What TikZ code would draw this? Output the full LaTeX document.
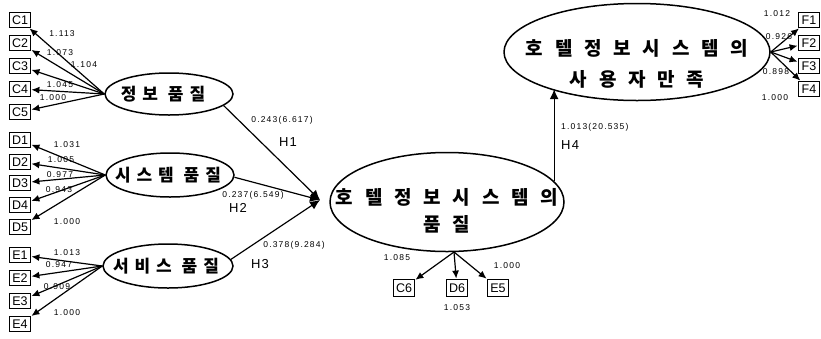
\documentclass[tikz,border=0pt]{standalone}
\usepackage{fontspec}
\setmainfont{Liberation Sans}
\newfontfamily\kr{Noto Sans CJK KR}
\usetikzlibrary{shapes.geometric,arrows.meta}
\newcommand{\zl}[2]{\makebox[0pt][c]{\raisebox{-#1}[\height][\depth]{#2}}}
\begin{document}
\begin{tikzpicture}[x=1pt,y=-1pt,
  obox/.style={draw, line width=1.8pt, minimum width=21pt, minimum height=15pt, inner sep=0pt, font=\fontsize{12.5}{12.5}\selectfont},
  lat/.style={draw, ellipse, line width=1.5pt, inner sep=0pt, align=center},
  spoke/.style={-{Latex[length=8pt,width=7pt]}, line width=1.2pt},
  path/.style={-{Latex[length=10pt,width=9pt]}, line width=1.2pt},
  nlab/.style={font=\fontsize{8.5}{8.5}\selectfont\addfontfeature{LetterSpace=14}, inner sep=0pt},
  hl/.style={font=\fontsize{13}{13}\selectfont\addfontfeature{LetterSpace=10}, inner sep=0pt},
  ksmall/.style={font=\kr\bfseries\fontsize{17}{17}\selectfont\addfontfeature{LetterSpace=35}},
  kbig/.style={font=\kr\bfseries\fontsize{19}{29}\selectfont\addfontfeature{LetterSpace=62}}
]
\useasboundingbox (0,0) rectangle (821,338);

% latent variables
\node[lat, ksmall, minimum width=128pt, minimum height=42pt] (ip) at (169,94) {\zl{0pt}{\hspace{-12pt}정보 품질}};
\node[lat, ksmall, minimum width=128pt, minimum height=44pt] (sq) at (170,175) {\zl{0pt}{\hspace{-4pt}시스템 품질}};
\node[lat, ksmall, minimum width=130pt, minimum height=44pt] (sv) at (168,266) {\zl{0pt}{\hspace{-4pt}서비스 품질}};
\node[lat, kbig, minimum width=234pt, minimum height=99pt] (qual) at (447,202) {\zl{9pt}{호텔정보시스템의}\\[-2pt]\zl{9pt}{품질}};
\node[lat, kbig, minimum width=266pt, minimum height=97pt] (sat) at (637,52) {\zl{12pt}{호텔정보시스템의}\\[2pt]\zl{12pt}{사용자만족}};

% indicator boxes
\foreach \n/\y in {C1/20,C2/43,C3/66,C4/89,C5/112,D1/140,D2/162,D3/183,D4/205,D5/227,E1/255,E2/278,E3/301,E4/324}
  \node[obox] (\n) at (20,\y) {\n};
\foreach \n/\y in {F1/20,F2/43,F3/66,F4/89}
  \node[obox] (\n) at (809,\y) {\n};
\node[obox, minimum height=17pt] (C6) at (404,288) {C6};
\node[obox, minimum height=17pt] (D6) at (457,288) {D6};
\node[obox, minimum height=17pt] (E5) at (498,288) {E5};

% spokes
\foreach \n in {C1,C2,C3,C4,C5} \draw[spoke] (ip.west) -- (\n);
\foreach \n in {D1,D2,D3,D4,D5} \draw[spoke] (sq.west) -- (\n);
\foreach \n in {E1,E2,E3,E4} \draw[spoke] (sv.west) -- (\n);
\foreach \n in {F1,F2,F3,F4} \draw[spoke] (sat.east) -- (\n);
\coordinate (qb) at (454,252);
\foreach \n in {C6,D6,E5} \draw[spoke] (qb) -- (\n);

% loadings
\node[nlab] at (62,34) {1.113};
\node[nlab] at (60,53) {1.073};
\node[nlab] at (84,65) {1.104};
\node[nlab] at (60,85) {1.045};
\node[nlab] at (53,98) {1.000};
\node[nlab] at (67,145) {1.031};
\node[nlab] at (61,160) {1.005};
\node[nlab] at (60,175) {0.977};
\node[nlab] at (59,190) {0.943};
\node[nlab] at (67,222) {1.000};
\node[nlab] at (67,253) {1.013};
\node[nlab] at (59,265) {0.947};
\node[nlab] at (57,287) {0.909};
\node[nlab] at (67,313) {1.000};
\node[nlab] at (777,14) {1.012};
\node[nlab] at (779,37) {0.926};
\node[nlab] at (776,72) {0.898};
\node[nlab] at (775,98) {1.000};
\node[nlab] at (397,258) {1.085};
\node[nlab] at (507,266) {1.000};
\node[nlab] at (457,308) {1.053};

% structural paths
\coordinate (hc) at (320,200);
\draw[path] (ip.-12) -- (hc);
\draw[path] (sq.-2) -- (hc);
\draw[path] (sv.6) -- (hc);
\draw[path] (qual.11.7) -- (qual.11.7 |- sat.203.9);

\node[nlab] at (282,120) {0.243(6.617)};
\node[hl] at (288,142) {H1};
\node[nlab] at (253,195) {0.237(6.549)};
\node[hl] at (238,208) {H2};
\node[nlab] at (294,245) {0.378(9.284)};
\node[hl] at (260,264) {H3};
\node[nlab, anchor=west] at (561,127) {1.013(20.535)};
\node[hl, anchor=west] at (561,145) {H4};
\end{tikzpicture}
\end{document}
